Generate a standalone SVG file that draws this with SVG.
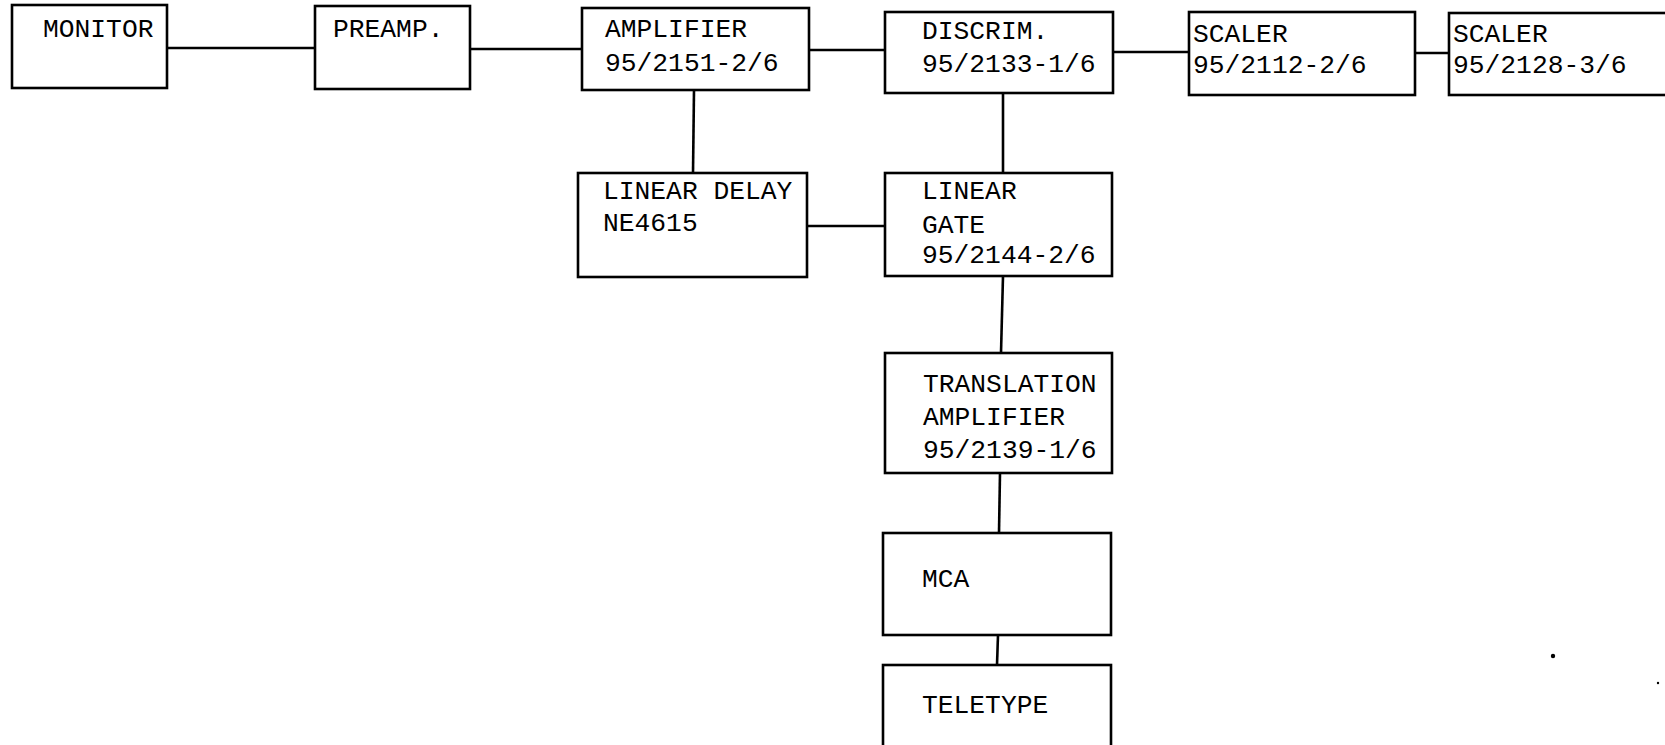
<svg xmlns="http://www.w3.org/2000/svg" width="1665" height="745" viewBox="0 0 1665 745">
<style>
.box{fill:#fff;stroke:#000;stroke-width:2.6}
.ln{fill:none;stroke:#000;stroke-width:2.6}
text{font-family:"Liberation Mono","Courier New",monospace;font-size:26.3px;fill:#000}
</style>
<rect width="1665" height="745" fill="#fff"/>
<g id="connectors">
<line class="ln" x1="167" y1="48" x2="315" y2="48"/>
<line class="ln" x1="470" y1="49" x2="582" y2="49"/>
<line class="ln" x1="809" y1="50" x2="885" y2="50"/>
<line class="ln" x1="1113" y1="52" x2="1189" y2="52"/>
<line class="ln" x1="1415" y1="53" x2="1449" y2="53"/>
<line class="ln" x1="694" y1="90" x2="693" y2="173"/>
<line class="ln" x1="1003" y1="93" x2="1003" y2="173"/>
<line class="ln" x1="807" y1="226" x2="885" y2="226"/>
<line class="ln" x1="1003" y1="276" x2="1001" y2="353"/>
<line class="ln" x1="1000" y1="473" x2="999" y2="533"/>
<line class="ln" x1="998" y1="635" x2="997" y2="665"/>
</g>
<g id="monitor"><rect class="box" x="12" y="5" width="155" height="83"/><text x="43" y="37">MONITOR</text></g>
<g id="preamp"><rect class="box" x="315" y="6" width="155" height="83"/><text x="333" y="37">PREAMP.</text></g>
<g id="amplifier"><rect class="box" x="582" y="8" width="227" height="82"/><text x="605" y="37">AMPLIFIER</text><text x="605" y="71">95/2151-2/6</text></g>
<g id="discrim"><rect class="box" x="885" y="12" width="228" height="81"/><text x="922" y="39">DISCRIM.</text><text x="922" y="72">95/2133-1/6</text></g>
<g id="scaler1"><rect class="box" x="1189" y="12" width="226" height="83"/><text x="1193" y="42">SCALER</text><text x="1193" y="73">95/2112-2/6</text></g>
<g id="scaler2"><rect class="box" x="1449" y="13" width="230" height="82"/><text x="1453" y="42">SCALER</text><text x="1453" y="73">95/2128-3/6</text></g>
<g id="linear-delay"><rect class="box" x="578" y="173" width="229" height="104"/><text x="603" y="199">LINEAR DELAY</text><text x="603" y="231">NE4615</text></g>
<g id="linear-gate"><rect class="box" x="885" y="173" width="227" height="103"/><text x="922" y="199">LINEAR</text><text x="922" y="233">GATE</text><text x="922" y="263">95/2144-2/6</text></g>
<g id="translation-amplifier"><rect class="box" x="885" y="353" width="227" height="120"/><text x="923" y="392">TRANSLATION</text><text x="923" y="425">AMPLIFIER</text><text x="923" y="458">95/2139-1/6</text></g>
<g id="mca"><rect class="box" x="883" y="533" width="228" height="102"/><text x="922" y="587">MCA</text></g>
<g id="teletype"><rect class="box" x="883" y="665" width="228" height="90"/><text x="922" y="713">TELETYPE</text></g>
<circle cx="1553" cy="656" r="2.2" fill="#000"/>
<circle cx="1658" cy="683" r="1.2" fill="#000"/>
</svg>
